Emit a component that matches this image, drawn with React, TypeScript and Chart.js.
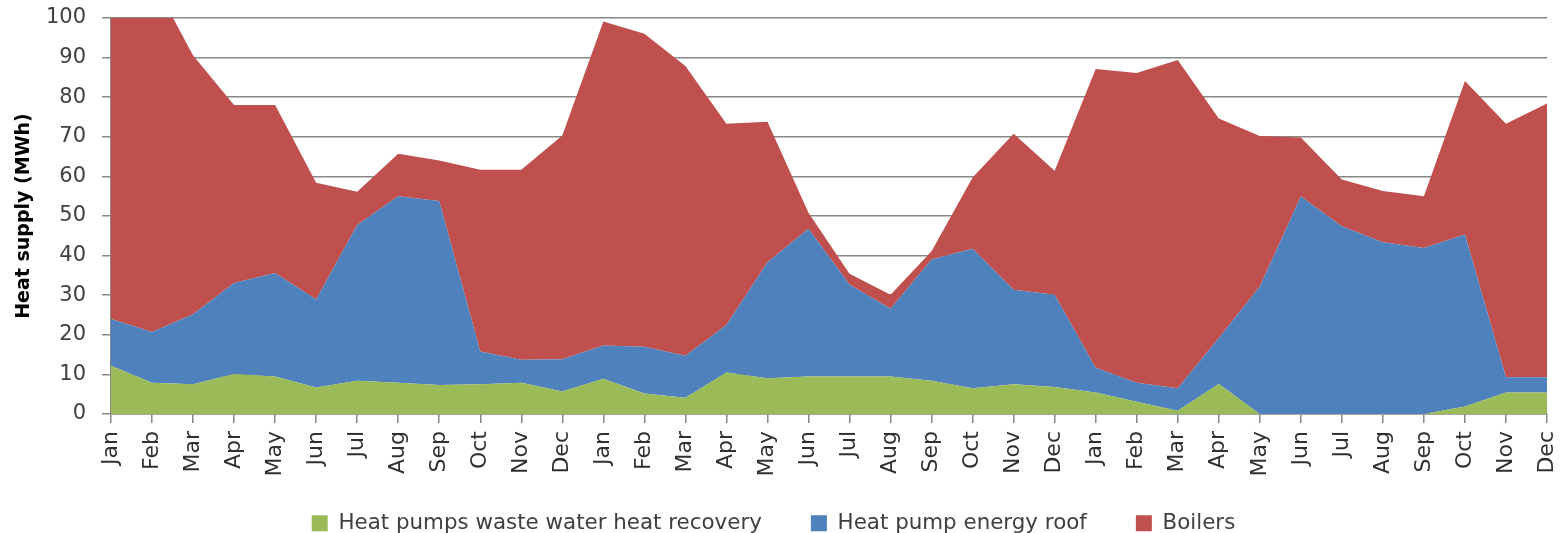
import React, { useEffect, useRef } from "react";
import { Chart, registerables } from "chart.js";

Chart.register(...registerables);

const months: string[] = [
  "Jan", "Feb", "Mar", "Apr", "May", "Jun", "Jul", "Aug", "Sep", "Oct", "Nov", "Dec",
  "Jan", "Feb", "Mar", "Apr", "May", "Jun", "Jul", "Aug", "Sep", "Oct", "Nov", "Dec",
  "Jan", "Feb", "Mar", "Apr", "May", "Jun", "Jul", "Aug", "Sep", "Oct", "Nov", "Dec",
];

const wasteWater: number[] = [
  12.2, 7.9, 7.5, 10.1, 9.5, 6.7, 8.4, 7.9, 7.3, 7.5, 7.9, 5.7,
  8.9, 5.2, 4.1, 10.5, 9.0, 9.5, 9.5, 9.5, 8.4, 6.5, 7.5, 6.8,
  5.4, 3.1, 0.8, 7.6, 0, 0, 0, 0, 0, 1.9, 5.4, 5.4,
];

const energyRoof: number[] = [
  11.8, 12.8, 17.7, 23.0, 26.1, 22.2, 39.3, 47.1, 46.5, 8.3, 5.8, 8.1,
  8.4, 11.8, 10.6, 12.0, 29.3, 37.3, 23.2, 17.1, 30.6, 35.2, 23.9, 23.3,
  6.3, 4.8, 5.7, 11.6, 32.2, 54.9, 47.4, 43.4, 41.9, 43.4, 3.9, 3.9,
];

const boilers: number[] = [
  80, 89.3, 65.3, 44.9, 42.4, 29.5, 8.4, 10.7, 10.2, 45.9, 48.0, 56.5,
  81.8, 79.0, 73.2, 50.8, 35.5, 4.0, 2.7, 3.5, 2.1, 18.0, 39.4, 31.3,
  75.4, 78.2, 82.9, 55.4, 38.0, 14.9, 11.8, 12.9, 13.1, 38.8, 64.0, 69.1,
];

const seriesNames: string[] = [
  "Heat pumps waste water heat recovery",
  "Heat pump energy roof",
  "Boilers",
];
const seriesColors: string[] = ["#9BBB59", "#4F81BD", "#C0504D"];

const yTitle = "Heat supply (MWh)";
const FONT = "DejaVu Sans";
const GRID = "#888888";

export default function App() {
  const ref = useRef<HTMLCanvasElement | null>(null);

  useEffect(() => {
    if (!ref.current) return;
    const values = [wasteWater, energyRoof, boilers];
    const chart = new Chart(ref.current, {
      type: "line",
      data: {
        labels: months,
        datasets: values.map((v, i) => ({
          label: seriesNames[i],
          data: v,
          backgroundColor: seriesColors[i],
          borderColor: seriesColors[i],
          borderWidth: 0,
          pointRadius: 0,
          pointHoverRadius: 0,
          tension: 0,
          fill: i === 0 ? "origin" : "-1",
        })),
      },
      options: {
        responsive: false,
        animation: false,
        devicePixelRatio: 1,
        layout: { padding: { top: 18, right: 16, left: 0, bottom: 0 } },
        plugins: {
          tooltip: { enabled: false },
          legend: {
            position: "bottom",
            labels: {
              font: { family: FONT, size: 21.4 },
              color: "#404040",
              boxWidth: 16,
              boxHeight: 16,
              padding: 49,
            },
          },
        },
        scales: {
          x: {
            stacked: true,
            offset: false,
            grid: {
              display: true,
              drawOnChartArea: false,
              drawTicks: true,
              tickLength: 9,
              color: GRID,
              lineWidth: 1.5,
            },
            border: { display: true, color: GRID, width: 1.5 },
            ticks: {
              autoSkip: false,
              minRotation: 90,
              maxRotation: 90,
              padding: 8,
              color: "#303030",
              font: { family: FONT, size: 22 },
            },
            afterFit: (s: any) => {
              const lh = s.chart.legend ? s.chart.legend.height : 0;
              s.height = s.chart.height - lh - 414;
              s.paddingLeft = 0;
              s.paddingRight = 0;
              // let the rotated month labels extend below the (short) axis box
              s._computeLabelArea = () => undefined;
            },
          },
          y: {
            stacked: true,
            min: 0,
            max: 100,
            grid: {
              color: GRID,
              lineWidth: 1.5,
              drawTicks: true,
              tickLength: 9,
            },
            border: { display: true, color: GRID, width: 1.5 },
            ticks: {
              stepSize: 10,
              padding: 16,
              color: "#404040",
              font: { family: FONT, size: 21 },
            },
            title: {
              display: true,
              text: yTitle,
              color: "#000000",
              font: { family: FONT, size: 19, weight: "bold" },
              padding: { top: 12.6, bottom: 0 },
            },
            afterFit: (s: any) => {
              s.width = 111;
              s.paddingTop = 0;
              s.paddingBottom = 0;
            },
          },
        },
      },
    });
    return () => chart.destroy();
  }, []);

  return (
    <div
      style={{
        position: "fixed",
        left: 0,
        top: 0,
        width: 1563,
        height: 533,
        overflow: "hidden",
        background: "#ffffff",
      }}
    >
      <canvas ref={ref} width={1563} height={544} style={{ display: "block" }} />
    </div>
  );
}
